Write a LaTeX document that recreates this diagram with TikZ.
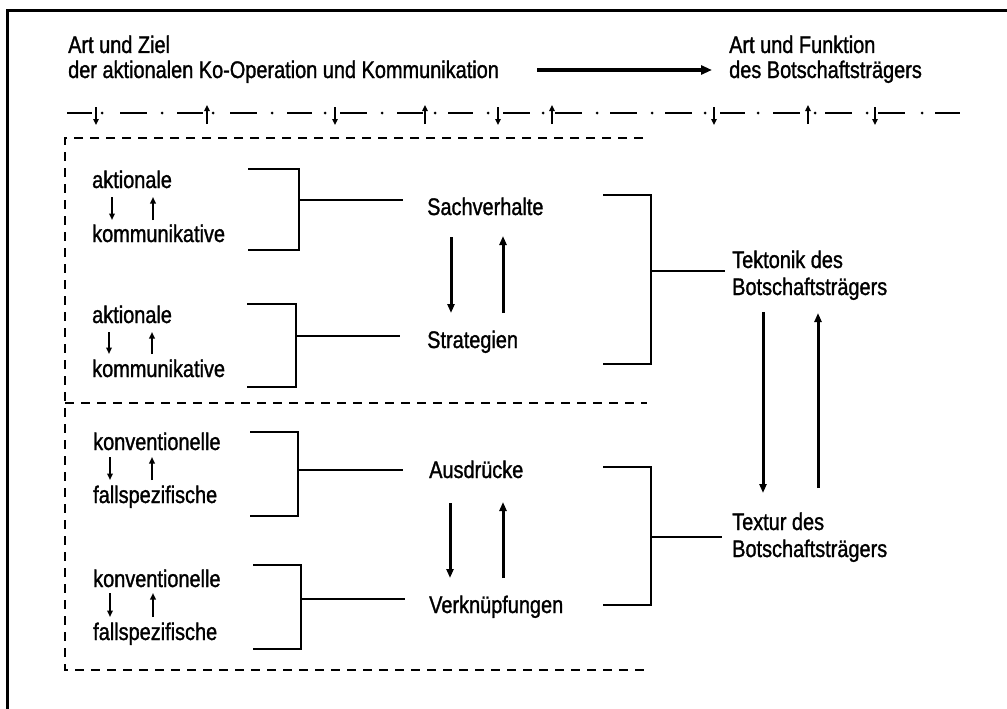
\documentclass[tikz,border=0pt]{standalone}
\usepackage{fontspec}
\setmainfont{Liberation Sans}[FakeStretch=0.83,FakeBold=1.2]
\usetikzlibrary{arrows.meta}

\begin{document}
\begin{tikzpicture}[x=1pt,y=-1pt,
  lbl/.style={inner sep=0pt, anchor=base west, font=\fontsize{24}{28}\selectfont},
  brk/.style={line width=2.8pt},
  bigarrow/.style={line width=3.4pt, -{Triangle[length=11pt,width=9pt]}},
  midarrow/.style={line width=3pt, -{Triangle[length=9pt,width=7pt]}},
  tinyarrow/.style={line width=2pt, -{Triangle[length=6.5pt,width=5.5pt]}},
  rowarrow/.style={line width=1.9pt, -{Triangle[length=6pt,width=5.5pt]}},
  boxline/.style={line width=2.6pt, dash pattern=on 9pt off 7pt},
  flowline/.style={line width=2pt}
]
\useasboundingbox (0,0) rectangle (1007,709);

% outer frame (left and top edges)
\draw[line width=3pt] (7,709) -- (7,11) -- (1007,11);

% heading
\node[lbl] (hl1) at (68,53) {Art und Ziel};
\node[lbl] (hl2) at (68,78) {der aktionalen Ko-Operation und Kommunikation};
\node[lbl] (hr1) at (729,53) {Art und Funktion};
\node[lbl] (hr2) at (729,78) {des Botschaftsträgers};
\coordinate (ha) at (537,70);
\coordinate (hb) at (712,70);
\draw[bigarrow] (ha) -- (hb);

% dash-dot line with alternating arrows
\foreach \a/\b in {67/92,120/147,177/203,230/257,287/312,340/367,397/423,448/473,
                   503/530,555/582,610/637,665/692,720/745,773/800,825/852,878/905,935/960}
  \draw[flowline] (\a,113) -- (\b,113);
\foreach \x in {102,162,213,272,325,382,435,488,543,597,652,705,758,815,867,922}
  \fill (\x,113) circle (1.5pt);
\foreach \x in {96,335,498,714,875}
  \draw[rowarrow] (\x,107) -- (\x,125);
\foreach \x in {207,425,552,808}
  \draw[rowarrow] (\x,124) -- (\x,105);

% dashed frame around the left part
\draw[boxline] (643,138) -- (65,138) -- (65,670) -- (645,670);
\draw[boxline] (65,403) -- (647,403);

% left column: paired terms
\node[lbl] (a1) at (92,188) {aktionale};
\node[lbl] (k1) at (92,242) {kommunikative};
\node[lbl] (a2) at (92,323) {aktionale};
\node[lbl] (k2) at (92,377) {kommunikative};
\node[lbl] (c3) at (93,450) {konventionelle};
\node[lbl] (f3) at (93,503) {fallspezifische};
\node[lbl] (c4) at (93,587) {konventionelle};
\node[lbl] (f4) at (93,640) {fallspezifische};

\draw[tinyarrow] (112,197) -- (112,220);
\draw[tinyarrow] (153,220) -- (153,197);
\draw[tinyarrow] (109,332) -- (109,354);
\draw[tinyarrow] (152,354) -- (152,332);
\draw[tinyarrow] (110,457) -- (110,480);
\draw[tinyarrow] (152,480) -- (152,457);
\draw[tinyarrow] (110,593) -- (110,617);
\draw[tinyarrow] (153,617) -- (153,593);

% middle column
\node[lbl] (sv) at (427,215) {Sachverhalte};
\node[lbl] (st) at (427,348) {Strategien};
\node[lbl] (au) at (429,478) {Ausdrücke};
\node[lbl] (vk) at (429,613) {Verknüpfungen};

% brackets joining the paired terms to the middle column
\draw[brk] (248,169) -- (299,169) -- (299,250) -- (248,250);
\draw[brk] (299,200) -- (403,200);
\draw[brk] (247,304) -- (296,304) -- (296,387) -- (247,387);
\draw[brk] (296,336) -- (400,336);
\draw[brk] (250,432) -- (298,432) -- (298,516) -- (250,516);
\draw[brk] (298,470) -- (403,470);
\draw[brk] (253,565) -- (301,565) -- (301,649) -- (253,649);
\draw[brk] (301,599) -- (405,599);

% exchange arrows in the middle column
\draw[midarrow] (451,237) -- (451,313);
\draw[midarrow] (503,313) -- (503,236);
\draw[midarrow] (450,503) -- (450,578);
\draw[midarrow] (503,578) -- (503,502);

% right column
\node[lbl] (tk1) at (732,268) {Tektonik des};
\node[lbl] (tk2) at (732,295) {Botschaftsträgers};
\node[lbl] (tx1) at (732,530) {Textur des};
\node[lbl] (tx2) at (732,557) {Botschaftsträgers};

\draw[brk] (603,195) -- (651,195) -- (651,364) -- (603,364);
\draw[brk] (651,271) -- (725,271);
\draw[brk] (603,467) -- (651,467) -- (651,605) -- (603,605);
\draw[brk] (651,537) -- (722,537);

\draw[midarrow] (763,312) -- (763,493);
\draw[midarrow] (818,488) -- (818,313);
\end{tikzpicture}
\end{document}
